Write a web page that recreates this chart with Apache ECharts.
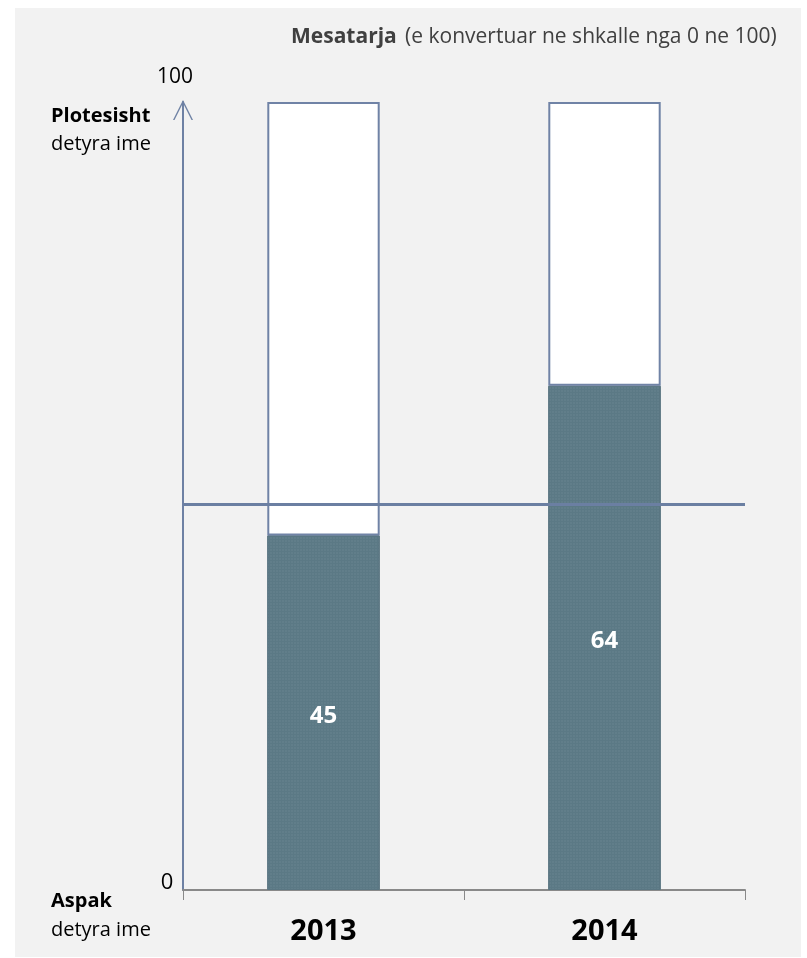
<!DOCTYPE html>
<html>
<head>
<meta charset="utf-8">
<script src="https://cdn.jsdelivr.net/npm/echarts@6/dist/echarts.min.js"></script>
<style>
  html, body { margin: 0; padding: 0; background: #ffffff; }
  #panel { position: absolute; left: 15px; top: 8px; width: 786px; height: 949px; background: #f2f2f2; }
  #chart { position: absolute; left: 0; top: 0; width: 807px; height: 958px; }
</style>
</head>
<body>
<div id="panel"></div>
<div id="chart"></div>
<script>
const categories = ['2013', '2014'];
const scores = [45, 64];
const remainder = [55, 36];
const yTicks = [0, 100];
const referenceLevel = 49;

const FONT = '"Open Sans", "Noto Sans", sans-serif';
const chart = echarts.init(document.getElementById('chart'), null, { renderer: 'canvas' });

chart.setOption({
  animation: false,
  backgroundColor: 'transparent',
  textStyle: { fontFamily: FONT },
  title: {
    left: 286,
    top: 22,
    text: '{b|Mesatarja}  {n|(e konvertuar ne shkalle nga 0 ne 100)}',
    textStyle: {
      fontWeight: 'normal',
      fontSize: 16,
      rich: {
        b: { fontFamily: FONT, fontWeight: 'bold', fontSize: 21, color: '#404040' },
        n: { fontFamily: FONT, fontWeight: 'normal', fontSize: 21, color: '#404040' }
      }
    }
  },
  grid: { left: 183, right: 62, top: 102, bottom: 68, containLabel: false },
  xAxis: {
    type: 'category',
    data: categories,
    boundaryGap: true,
    axisLine: { show: true, lineStyle: { color: '#898989', width: 2 } },
    axisTick: { show: true, length: 10, lineStyle: { color: '#898989', width: 1 } },
    axisLabel: { margin: 27, color: '#000', fontSize: 29, fontWeight: 'bold', fontFamily: FONT }
  },
  yAxis: {
    type: 'value',
    min: yTicks[0],
    max: yTicks[yTicks.length - 1],
    interval: yTicks[1] - yTicks[0],
    splitLine: { show: false },
    axisTick: { show: false },
    axisLine: {
      show: true,
      lineStyle: { color: '#6e81a4', width: 2 },
      symbol: ['none', 'path://M0,20 L10,0 L20,20 L18.5,20 L10,3 L1.5,20 Z'],
      symbolSize: [22, 20],
      symbolOffset: [0, -8]
    },
    axisLabel: {
      margin: 16,
      align: 'center',
      color: '#000',
      fontFamily: FONT,
      formatter: function (v) { return v === 100 ? '{top|' + v + '}' : '{bot|' + v + '}'; },
      rich: {
        top: { fontSize: 21, fontFamily: FONT, color: '#000', padding: [0, 0, 49, 16] },
        bot: { fontSize: 22, fontFamily: FONT, color: '#000', padding: [0, 0, 14, 0] }
      }
    }
  },
  series: [
    {
      type: 'bar',
      stack: 'total',
      data: scores,
      barWidth: '40%',
      itemStyle: {
        color: '#5b7985',
        borderColor: '#5a7682',
        borderWidth: 1,
        decal: {
          symbol: 'rect',
          symbolSize: 0.5,
          dashArrayX: [2, 1],
          dashArrayY: [2, 1],
          color: 'rgba(200,215,225,0.25)',
          rotation: 0
        }
      },
      label: {
        show: true,
        position: 'inside',
        color: '#ffffff',
        fontSize: 24,
        fontWeight: 'bold',
        fontFamily: FONT,
        offset: [0, 3]
      },
      markLine: {
        silent: true,
        symbol: 'none',
        label: { show: false },
        lineStyle: { color: '#6b7fa2', width: 3, type: 'solid' },
        data: [{ yAxis: referenceLevel }]
      },
      z: 2
    },
    {
      type: 'bar',
      stack: 'total',
      data: remainder,
      barWidth: '40%',
      itemStyle: { color: '#ffffff', borderColor: '#7083a6', borderWidth: 2 },
      z: 3
    }
  ],
  graphic: [
    { type: 'text', left: 51, top: 106, style: { text: 'Plotesisht', fontFamily: FONT, fontWeight: 'bold', fontSize: 20, fill: '#000' } },
    { type: 'text', left: 51, top: 134, style: { text: 'detyra ime', fontFamily: FONT, fontSize: 20, fill: '#000' } },
    { type: 'text', left: 51, top: 891, style: { text: 'Aspak', fontFamily: FONT, fontWeight: 'bold', fontSize: 20, fill: '#000' } },
    { type: 'text', left: 51, top: 920, style: { text: 'detyra ime', fontFamily: FONT, fontSize: 20, fill: '#000' } }
  ]
});
</script>
</body>
</html>
